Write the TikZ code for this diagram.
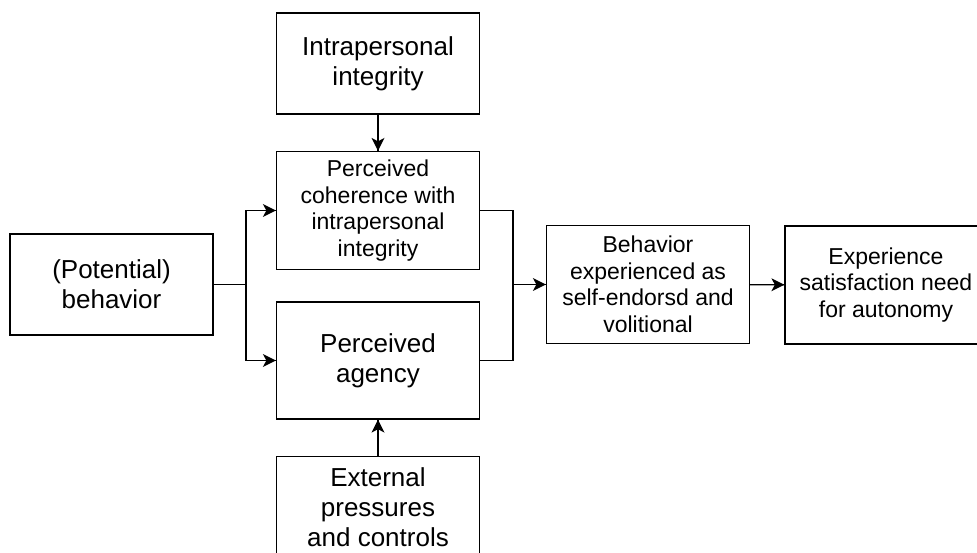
\documentclass[tikz,border=0pt]{standalone}
\usepackage{fontspec}
\setmainfont{Liberation Sans}
\usetikzlibrary{decorations.markings}
\tikzset{
  box/.style={draw, line width=1.3pt, align=center, inner sep=0pt,
              minimum width=203pt, minimum height=118pt},
  lowbox/.style={box, minimum height=101pt},
  bigtxt/.style={font=\fontsize{26}{30}\selectfont},
  smalltxt/.style={font=\fontsize{23}{26.5}\selectfont},
  wire/.style={line width=1.3pt},
  % filled, slightly notched head placed at the end of the connector
  link/.style={wire, postaction={decorate, decoration={markings,
      mark=at position 1 with {\fill[line width=0pt]
        (-13pt,-6.5pt) -- (0pt,0pt) -- (-13pt,6.5pt) -- (-9.5pt,0pt) -- cycle;}}}}
}
\begin{document}
\begin{tikzpicture}[x=1pt,y=-1pt]
\useasboundingbox (0,0) rectangle (977,553);

% boxes
\node[lowbox, bigtxt] (intra) at (378,63.5) {Intrapersonal\\integrity};
\node[box, smalltxt] (coh) at (378,210.5) {Perceived\\coherence with\\intrapersonal\\integrity};
\node[box, bigtxt, minimum height=117pt] (agency) at (378,360.5) {Perceived\\agency};
\node[lowbox, bigtxt] (ext) at (378,507) {External\\pressures\\and controls};
\node[lowbox, bigtxt] (beh) at (111.5,284.5) {(Potential)\\behavior};
\node[box, smalltxt] (endorsed) at (648,284.5) {Behavior\\experienced as\\self-endorsd and\\volitional};
\node[box, smalltxt, minimum width=202pt] (sat) at (886,285) {Experience\\satisfaction need\\for autonomy};

% branch points
\coordinate (split) at (246,284.5);
\coordinate (join) at (513,284.5);

% connectors
\draw[link] (intra) -- (coh);
\draw[link] (ext) -- (agency);
\draw[wire] (beh.east) -- (split);
\draw[link] (split) |- (coh.west);
\draw[link] (split) |- (agency.west);
\draw[wire] (coh.east) -| (join);
\draw[wire] (agency.east) -| (join);
\draw[link] (join) -- (endorsed.west);
\draw[link] (endorsed) -- (sat);
\end{tikzpicture}
\end{document}
